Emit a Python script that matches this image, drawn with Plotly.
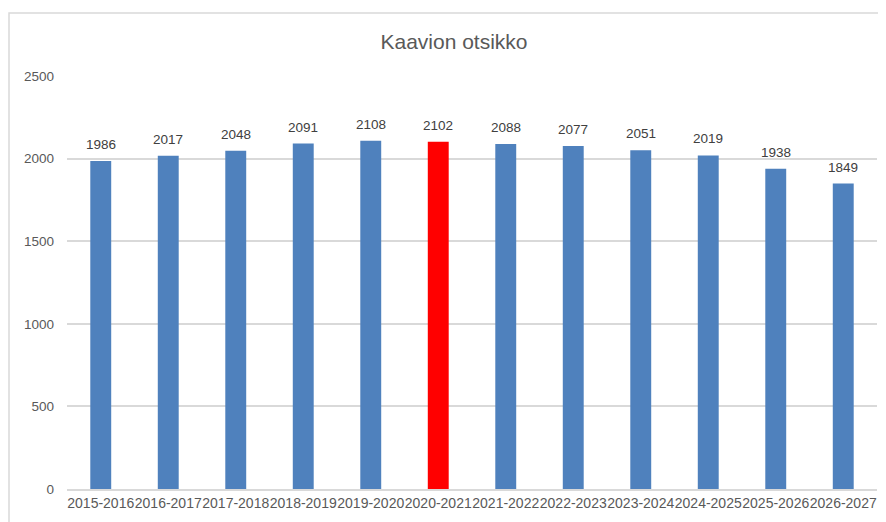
import plotly.graph_objects as go

categories = ["2015-2016", "2016-2017", "2017-2018", "2018-2019", "2019-2020", "2020-2021",
              "2021-2022", "2022-2023", "2023-2024", "2024-2025", "2025-2026", "2026-2027"]
values = [1986, 2017, 2048, 2091, 2108, 2102, 2088, 2077, 2051, 2019, 1938, 1849]
highlight = "2020-2021"
title_text = "Kaavion otsikko"
y_ticks = [0, 500, 1000, 1500, 2000, 2500]

BLUE = "#4F81BD"
RED = "#FF0000"
colors = [RED if c == highlight else BLUE for c in categories]
FONT = "Liberation Sans"

W, H = 878, 514  # page body has an 8px margin

fig = go.Figure()
fig.add_trace(go.Bar(x=categories, y=values, marker=dict(color=colors, line=dict(width=0)),
                     hoverinfo="x+y"))

annotations = [dict(x=c, y=v, text=str(v), showarrow=False, xref="x", yref="y",
                    yanchor="bottom", yshift=7,
                    font=dict(family=FONT, size=13.5, color="#404040"))
               for c, v in zip(categories, values)]

fig.update_layout(
    width=W, height=H,
    margin=dict(l=59, r=9, t=68, b=33),
    paper_bgcolor="white", plot_bgcolor="white",
    bargap=0.69,
    showlegend=False,
    title=dict(text=title_text, x=0.508, xanchor="center", y=1 - 34 / H, yanchor="middle",
               font=dict(family=FONT, size=21, color="#595959")),
    annotations=annotations,
    shapes=[dict(type="rect", xref="paper", yref="paper", x0=-0.0716, x1=1.05,
                 y0=-0.2, y1=1.1525, line=dict(color="#D9D9D9", width=1.5),
                 fillcolor="rgba(0,0,0,0)", layer="below")],
    xaxis=dict(showgrid=False, showline=True, linecolor="#D9D9D9", linewidth=1.5,
               tickfont=dict(family=FONT, size=14, color="#595959"), ticks="",
               tickangle=0, fixedrange=True),
    yaxis=dict(range=[0, 2500], tickvals=y_ticks, showgrid=True, gridcolor="#D9D9D9",
               gridwidth=1.5, zeroline=False, showline=False, ticks="",
               ticklabelstandoff=12,
               tickfont=dict(family=FONT, size=13.5, color="#595959"), fixedrange=True),
)

fig.write_html("out.html")
